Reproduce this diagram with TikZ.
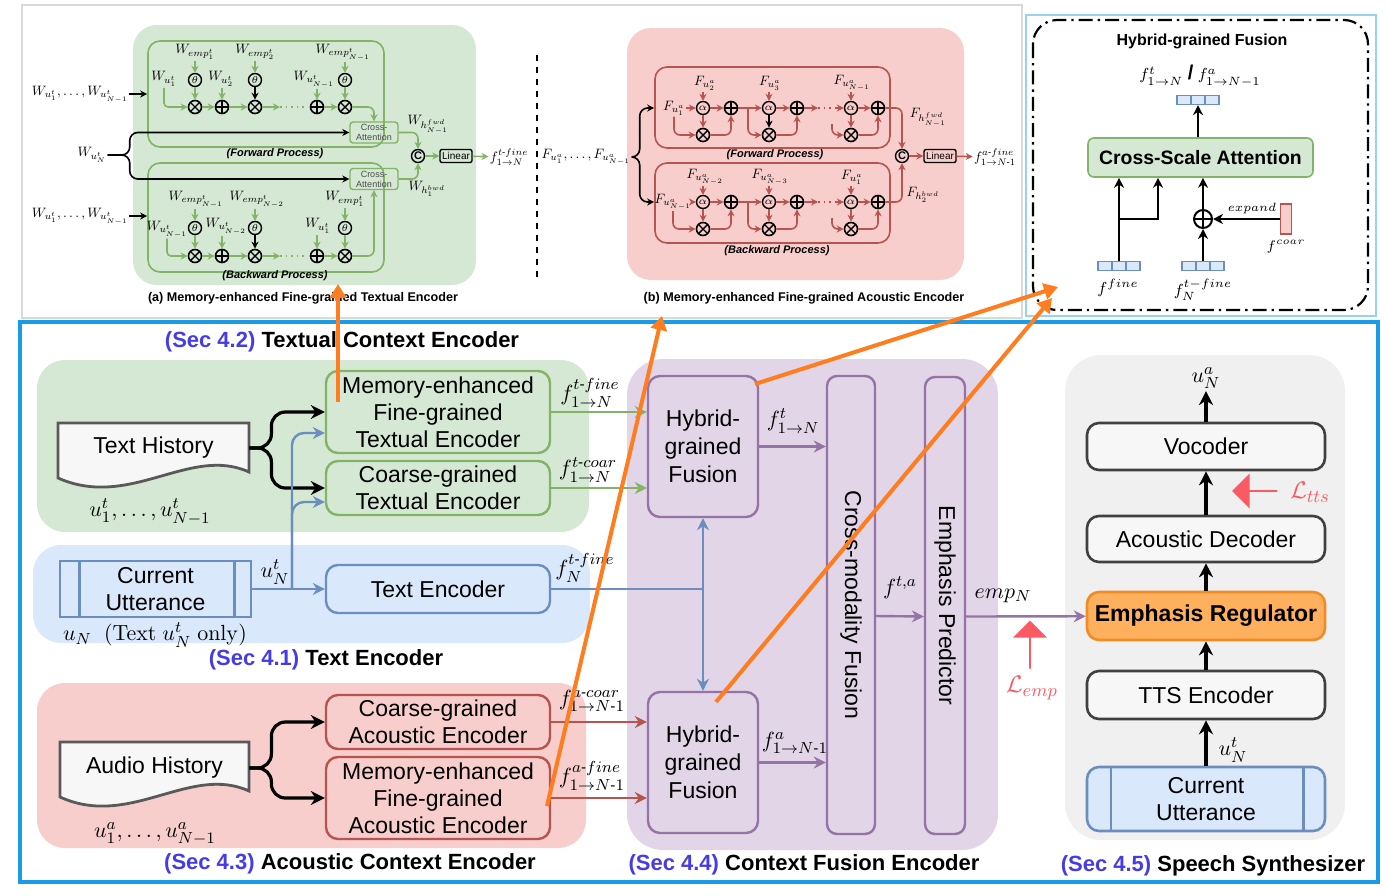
\documentclass[tikz,border=0pt]{standalone}
\usepackage{amsmath}
\usepackage[no-math]{fontspec}
\setmainfont{Liberation Sans}
\usetikzlibrary{arrows.meta,positioning,calc,shapes.arrows}

\definecolor{grbg}{RGB}{213,232,212}
\definecolor{grln}{RGB}{130,179,102}
\definecolor{blbg}{RGB}{218,232,252}
\definecolor{blln}{RGB}{108,142,191}
\definecolor{rdbg}{RGB}{248,206,204}
\definecolor{rdln}{RGB}{184,84,80}
\definecolor{pubg}{RGB}{225,213,231}
\definecolor{puln}{RGB}{150,115,166}
\definecolor{gybg}{RGB}{240,240,240}
\definecolor{orfill}{RGB}{255,176,92}
\definecolor{orln}{RGB}{240,140,40}
\definecolor{secbl}{RGB}{70,60,230}
\definecolor{frbl}{RGB}{25,155,230}
\definecolor{annor}{RGB}{255,125,30}
\definecolor{lossrd}{RGB}{250,90,100}

\newcommand{\fsz}[2]{\fontsize{#1}{#2}\selectfont}
% small maths for the detail panels
\newcommand{\sm}[1]{\scalebox{0.68}{#1}}

\tikzset{
  panel/.style={draw=#1, line width=0.8pt, rounded corners=6pt},
  opc/.style={circle, draw, line width=0.8pt, minimum size=6.5pt, inner sep=0pt},
  otimes/.style={opc, path picture={\draw[line width=0.7pt]
      (path picture bounding box.north west) -- (path picture bounding box.south east)
      (path picture bounding box.north east) -- (path picture bounding box.south west);}},
  oplus/.style={opc, path picture={\draw[line width=0.7pt]
      (path picture bounding box.north) -- (path picture bounding box.south)
      (path picture bounding box.east) -- (path picture bounding box.west);}},
  gatec/.style={circle, draw, line width=0.7pt, minimum size=6.5pt, inner sep=0pt, font=\fsz{5.5}{6}},
  wlab/.style={font=\fsz{10}{11}, inner sep=0.5pt},
  proc/.style={font=\fsz{5.5}{6}\bfseries\itshape},
  capt/.style={font=\fsz{6.3}{7}\bfseries},
  attn/.style={draw=grln, line width=0.7pt, rounded corners=1.5pt, align=center, font=\fsz{4.5}{5},
    text=black!70, minimum width=24pt, minimum height=10.5pt, inner sep=0pt},
  linbox/.style={draw, line width=0.7pt, rounded corners=1pt, font=\fsz{5}{5}, minimum width=16pt,
    minimum height=6.5pt, inner sep=0.5pt},
  ga/.style={draw=grln, line width=0.8pt, -{Stealth[length=3.5pt,width=3.5pt]}},
  ra/.style={draw=rdln, line width=0.8pt, -{Stealth[length=3.5pt,width=3.5pt]}},
  ka/.style={draw=black, line width=0.8pt, -{Stealth[length=3.5pt,width=3.5pt]}},
  bk/.style={draw=black, line width=1.2pt, -{Stealth[length=5pt,width=5pt]}},
  vcell/.style={draw=blln, fill=blbg, line width=0.6pt, minimum width=7pt, minimum height=4.5pt, inner sep=0pt},
  encbox/.style={draw=#1, line width=1.2pt, rounded corners=6pt, align=center, font=\fsz{11.5}{13.5},
    minimum width=112pt, inner sep=0pt},
  synbox/.style={draw=black!75, fill=gray!6, line width=1.3pt, rounded corners=6pt, align=center,
    font=\fsz{11.5}{13.5}, minimum width=119pt, inner sep=1pt},
  mlab/.style={font=\fsz{11}{12}, inner sep=1pt},
  sectitle/.style={font=\fsz{11}{13}\bfseries},
  garr/.style={draw=grln, line width=1.2pt, -{Stealth[length=6pt,width=6pt]}},
  rarr/.style={draw=rdln, line width=1.2pt, -{Stealth[length=6pt,width=6pt]}},
  parr/.style={draw=puln, line width=1.2pt, -{Stealth[length=6pt,width=6pt]}},
  blarr/.style={draw=blln, line width=1.2pt, -{Stealth[length=6pt,width=6pt]}},
  barr/.style={draw=black, line width=1.6pt, -{Stealth[length=7pt,width=7pt]}},
  orarr/.style={draw=annor, line width=2pt, -{Triangle[length=7pt,width=8pt]}},
  loss/.style={single arrow, fill=lossrd, draw=none, inner sep=0pt, single arrow head extend=3.5pt}
}

\begin{document}
\begin{tikzpicture}[x=0.5pt, y=-0.5pt]
\useasboundingbox (0,0) rectangle (1386,895);

% frames
\draw[gray!30, line width=0.6pt] (22,5) rectangle (1022,318);
\draw[frbl!45, line width=1.4pt] (1026,15) rectangle (1376,316);
\draw[frbl, line width=1.6pt] (20,322) rectangle (1378,882);

% ---------------- (a) textual fine-grained encoder ----------------
\fill[grbg, rounded corners=12pt] (133,25) rectangle (476,285);
\node[panel=grln, minimum width=118pt, minimum height=53pt] (tfwd) at (266,94) {};
\node[panel=grln, minimum width=118pt, minimum height=54.5pt] (tbwd) at (266,217.5) {};
\node[proc] (tfp) at (275,154) {(Forward Process)};
\node[proc] (tbp) at (275,276) {(Backward Process)};

\foreach \n/\x/\s in {1/195/otimes, 2/222/oplus, 3/255/otimes, 4/317/oplus, 5/345/otimes}{
  \node[\s] (tf\n) at (\x,107) {};
  \node[\s] (tb\n) at (\x,256) {};
}
\foreach \n/\x in {1/195, 3/255, 5/345}{
  \node[gatec] (tgf\n) at (\x,80) {$\theta$};
  \node[gatec] (tgb\n) at (\x,228) {$\theta$};
}
\node[wlab] (tef1) at (195,52) {\sm{$W_{emp^t_1}$}};
\node[wlab] (tef3) at (255,52) {\sm{$W_{emp^t_2}$}};
\node[wlab] (tef5) at (343,52) {\sm{$W_{emp^t_{N-1}}$}};
\node[wlab] (teb1) at (196,199) {\sm{$W_{emp^t_{N-1}}$}};
\node[wlab] (teb3) at (257,199) {\sm{$W_{emp^t_{N-2}}$}};
\node[wlab] (teb5) at (345,199) {\sm{$W_{emp^t_1}$}};
\foreach \n in {1,3,5}{
  \draw[ga] (tef\n.south -| tgf\n) -- (tgf\n);
  \draw[ga] (teb\n.south -| tgb\n) -- (tgb\n);
}
\draw[ga] (tgf1) -- (tf1); \draw[ka] (tgf3) -- (tf3); \draw[ga] (tgf5) -- (tf5);
\draw[ga] (tgb1) -- (tb1); \draw[ka] (tgb3) -- (tb3); \draw[ga] (tgb5) -- (tb5);

\node[wlab] (tuf1) at (164,79) {\sm{$W_{u^t_1}$}};
\node[wlab] (tuf2) at (221,79) {\sm{$W_{u^t_2}$}};
\node[wlab] (tuf4) at (314,79) {\sm{$W_{u^t_{N-1}}$}};
\node[wlab] (tub1) at (167,229) {\sm{$W_{u^t_{N-1}}$}};
\node[wlab] (tub2) at (226,226) {\sm{$W_{u^t_{N-2}}$}};
\node[wlab] (tub4) at (318,226) {\sm{$W_{u^t_1}$}};
\draw[ga, rounded corners=2pt] (tuf1.south) |- (tf1);
\draw[ga] (tuf2.south -| tf2) -- (tf2);
\draw[ga] (tuf4.south -| tf4) -- (tf4);
\draw[ga, rounded corners=2pt] (tub1.south) |- (tb1);
\draw[ga] (tub2.south -| tb2) -- (tb2);
\draw[ga] (tub4.south -| tb4) -- (tb4);

% chains with dots
\coordinate (tdf1) at (280,107); \coordinate (tdf2) at (306,107);
\coordinate (tdb1) at (280,256); \coordinate (tdb2) at (306,256);
\draw[ga] (tf1) -- (tf2); \draw[ga] (tf2) -- (tf3); \draw[ga] (tf3) -- (tdf1);
\draw[ga] (tb1) -- (tb2); \draw[ga] (tb2) -- (tb3); \draw[ga] (tb3) -- (tdb1);
\draw[grln, line width=0.8pt, dash pattern=on 0.8pt off 2pt] (tdf1) -- (tdf2);
\draw[grln, line width=0.8pt, dash pattern=on 0.8pt off 2pt] (tdb1) -- (tdb2);
\draw[ga] (tf4) -- (tf5);
\draw[ga] (tb4) -- (tb5);

\node[attn] (tca1) at (374,132.5) {Cross-\\Attention};
\node[attn] (tca2) at (374,179) {Cross-\\Attention};
\draw[ga, rounded corners=3pt] (tf5) -| (tca1);
\draw[ga, rounded corners=3pt] (tb5) -| (tca2);
\node[gatec, font=\fsz{5.5}{6}\bfseries] (tcat) at (418,156) {C};
\node[linbox] (tlin) at (456,156) {Linear};
\node[wlab] (tout) at (509,157) {\sm{$f^{t\text{-}fine}_{1\to N}$}};
\draw[ga, rounded corners=3pt] (tca1) -| (tcat);
\draw[ga, rounded corners=3pt] (tca2) -| (tcat);
\draw[ga] (tcat) -- (tlin);
\draw[ga] (tlin) -- (tout);
\node[wlab] (twhf) at (428,124) {\sm{$W_{h^{fwd}_{N-1}}$}};
\node[wlab] (twhb) at (427,189) {\sm{$W_{h^{bwd}_1}$}};

\node[wlab] (tin1) at (80,94) {\sm{$W_{u^t_1},\ldots,W_{u^t_{N-1}}$}};
\node[wlab] (tin2) at (80,216) {\sm{$W_{u^t_1},\ldots,W_{u^t_{N-1}}$}};
\node[wlab] (tinn) at (92,155) {\sm{$W_{u^t_N}$}};
\draw[ka] (tin1) -- (tin1 -| tfwd.west);
\draw[ka] (tin2) -- (tin2 -| tbwd.west);
\draw[ka, rounded corners=4pt] (tinn.east) -- ++(22,0) |- (tca1);
\draw[ka, rounded corners=4pt] (tinn.east) -- ++(22,0) |- (tca2);

\draw[line width=1.4pt, dash pattern=on 3pt off 3pt] (537,55) -- (537,279);

% ---------------- (b) acoustic fine-grained encoder ----------------
\fill[rdbg, rounded corners=12pt] (627,28) rectangle (964,280);
\node[panel=rdln, minimum width=117.5pt, minimum height=40.5pt] (afwd) at (772.5,107.5) {};
\node[panel=rdln, minimum width=117.5pt, minimum height=40pt] (abwd) at (772.5,203) {};
\node[proc] (afp) at (775,155) {(Forward Process)};
\node[proc] (abp) at (777,251) {(Backward Process)};

\foreach \n/\x/\p in {1/703/731, 2/769/797, 3/851/878}{
  \node[gatec] (aaf\n) at (\x,108) {$\alpha$};
  \node[otimes] (amf\n) at (\x,135) {};
  \node[oplus] (apf\n) at (\p,108) {};
  \node[gatec] (aab\n) at (\x,202) {$\alpha$};
  \node[otimes] (amb\n) at (\x,229) {};
  \node[oplus] (apb\n) at (\p,202) {};
  \draw[ra] (aaf\n) -- (apf\n);
  \draw[ra] (aab\n) -- (apb\n);
  \draw[ra] (aab\n) -- (amb\n);
  \draw[ra, rounded corners=3pt] (amf\n) -| (apf\n);
  \draw[ra, rounded corners=3pt] (amb\n) -| (apb\n);
}
\draw[ra] (aaf1) -- (amf1); \draw[ka] (aaf2) -- (amf2); \draw[ra] (aaf3) -- (amf3);

\node[wlab] (alf1) at (705,83) {\sm{$F_{u^a_2}$}};
\node[wlab] (alf2) at (770,83) {\sm{$F_{u^a_3}$}};
\node[wlab] (alf3) at (852,83) {\sm{$F_{u^a_{N-1}}$}};
\node[wlab] (alb1) at (705,177) {\sm{$F_{u^a_{N-2}}$}};
\node[wlab] (alb2) at (770,177) {\sm{$F_{u^a_{N-3}}$}};
\node[wlab] (alb3) at (852,177) {\sm{$F_{u^a_1}$}};
\foreach \n in {1,2,3}{
  \draw[ra] (alf\n.south -| aaf\n) -- (aaf\n);
  \draw[ra] (alb\n.south -| aab\n) -- (aab\n);
}

\node[wlab] (auf) at (674,108) {\sm{$F_{u^a_1}$}};
\node[wlab] (aub) at (673,202) {\sm{$F_{u^a_{N-1}}$}};
\draw[ra] (auf) -- (aaf1);
\draw[ra, rounded corners=3pt] (auf.south) |- (amf1);
\draw[ra] (aub) -- (aab1);
\draw[ra, rounded corners=3pt] (aub.south) |- (amb1);
\draw[ra] (apf1) -- (aaf2);
\draw[ra] (apb1) -- (aab2);
\coordinate (abf2) at (748,108); \coordinate (abb2) at (748,202);
\draw[ra, rounded corners=3pt] (abf2) |- (amf2);
\draw[ra, rounded corners=3pt] (abb2) |- (amb2);

\coordinate (adf1) at (818,108); \coordinate (adf2) at (836,108);
\coordinate (adb1) at (818,202); \coordinate (adb2) at (836,202);
\draw[ra] (apf2) -- (adf1);
\draw[ra] (apb2) -- (adb1);
\draw[rdln, line width=0.8pt, dash pattern=on 0.8pt off 2pt] (adf1) -- (adf2);
\draw[rdln, line width=0.8pt, dash pattern=on 0.8pt off 2pt] (adb1) -- (adb2);
\draw[ra] (adf2) -- (aaf3);
\draw[ra] (adb2) -- (aab3);
\coordinate (abf3) at (832,124); \coordinate (abb3) at (832,218);
\draw[ra, rounded corners=3pt] (abf3) |- (amf3);
\draw[ra, rounded corners=3pt] (abb3) |- (amb3);

\node[gatec, font=\fsz{5.5}{6}\bfseries] (acat) at (902,156) {C};
\node[linbox] (alin) at (940,156) {Linear};
\node[wlab] (aout) at (995,157) {\sm{$f^{a\text{-}fine}_{1\to N\text{-}1}$}};
\draw[ra, rounded corners=3pt] (apf3) -| (acat);
\draw[ra, rounded corners=3pt] (apb3) -| (acat);
\draw[ra] (acat) -- (alin);
\draw[ra] (alin) -- (aout);
\node[wlab] (ahf) at (928,117) {\sm{$F_{h^{fwd}_{N-1}}$}};
\node[wlab] (ahb) at (923,195) {\sm{$F_{h^{bwd}_2}$}};

\node[wlab] (ain) at (586,157) {\sm{$F_{u^a_1},\ldots,F_{u^a_{N-1}}$}};
\draw[ka, rounded corners=4pt] (ain.east) -- ++(8,0) |- (afwd.west |- aaf1);
\draw[ka, rounded corners=4pt] (ain.east) -- ++(8,0) |- (abwd.west |- aab1);

\node[capt] (acap) at (303,298) {(a) Memory-enhanced Fine-grained Textual Encoder};
\node[capt] (bcap) at (804,298) {(b) Memory-enhanced Fine-grained Acoustic Encoder};

% ---------------- hybrid-grained fusion detail ----------------
\draw[line width=1.1pt, dash pattern=on 7pt off 2.5pt on 1.2pt off 2.5pt, rounded corners=12pt]
  (1033,20) rectangle (1368,310);
\node[font=\fsz{8}{9}\bfseries] (hgt) at (1202,41) {Hybrid-grained Fusion};
\node[font=\fsz{8}{9}] (hgo) at (1200,76) {$f^t_{1\to N}$ {\fsz{10}{10}\bfseries /} $f^a_{1\to N-1}$};
\foreach \i/\x in {1/1184, 2/1198, 3/1212} \node[vcell] (vo\i) at (\x,100) {};
\foreach \i/\x in {1/1105, 2/1119, 3/1133} \node[vcell] (vf\i) at (\x,266) {};
\foreach \i/\x in {1/1189, 2/1203, 3/1217} \node[vcell] (vn\i) at (\x,266) {};
\node[draw=grln, fill=grbg, line width=0.8pt, rounded corners=3pt, minimum width=112.5pt,
  minimum height=19.5pt, font=\fsz{9.7}{10}\bfseries] (csa) at (1200.5,157.5) {Cross-Scale Attention};
\draw[bk] (csa.north -| vo2) -- (vo2);
\node[oplus, minimum size=9pt, line width=1pt] (hsum) at (1203,219) {};
\coordinate (hj) at (1119,219);
\coordinate (hk) at (1158,219);
\draw[bk] (vf2) -- (vf2 |- csa.south);
\draw[bk] (hj) -- (hk) -- (hk |- csa.south);
\draw[bk] (vn2) -- (hsum);
\draw[bk] (hsum) -- (hsum |- csa.south);
\node[draw=rdln, fill=rdbg, line width=0.6pt, minimum width=5.5pt, minimum height=15pt, inner sep=0pt]
  (coar) at (1286,219) {};
\draw[bk] (coar) -- (hsum);
\node[font=\fsz{6.5}{7}] (hexp) at (1252,208) {$expand$};
\node[font=\fsz{8}{9}] (hlf) at (1118,288) {$f^{fine}$};
\node[font=\fsz{8}{9}] (hln) at (1203,290) {$f^{t-fine}_N$};
\node[font=\fsz{7.5}{8}] (hlc) at (1286,247) {$f^{coar}$};

% ---------------- overview ----------------
\fill[grbg, rounded corners=14pt] (37,360) rectangle (589,532);
\fill[blbg, rounded corners=14pt] (33,545) rectangle (590,643);
\fill[rdbg, rounded corners=14pt] (37,683) rectangle (586,848);
\fill[pubg, rounded corners=18pt] (627,359) rectangle (998,850);
\fill[gybg, rounded corners=18pt] (1065,355) rectangle (1345,840);

% history documents
\draw[draw=black!65, fill=black!3, line width=1.4pt] (58,423) -- (249,423) -- (249,472)
  .. controls (190,445) and (130,510) .. (58,478) -- cycle;
\node[font=\fsz{11.5}{13}, minimum width=95.5pt, minimum height=28pt, inner sep=0pt] (thist) at (153.5,448) {Text History};
\node[mlab] (thl) at (150,512) {$u^t_1,\ldots,u^t_{N-1}$};
\draw[draw=black!65, fill=black!3, line width=1.4pt] (60,742) -- (249,742) -- (249,791)
  .. controls (190,764) and (130,829) .. (60,797) -- cycle;
\node[font=\fsz{11.5}{13}, minimum width=94.5pt, minimum height=28pt, inner sep=0pt] (ahist) at (154.5,768) {Audio History};
\node[mlab] (ahl) at (155,834) {$u^a_1,\ldots,u^a_{N-1}$};

% current utterance
\node[draw=blln, fill=blbg, line width=1.4pt, minimum width=95.5pt, minimum height=28pt, align=center,
  font=\fsz{11.5}{13.5}, inner sep=0pt] (cutt) at (155.5,589) {Current\\Utterance};
\draw[blln, line width=1.2pt] ($(cutt.north west)+(21,0)$) -- ($(cutt.south west)+(21,0)$);
\draw[blln, line width=1.2pt] ($(cutt.north east)+(-18,0)$) -- ($(cutt.south east)+(-18,0)$);
\node[mlab] (cul) at (155,635) {$u_N\ \ (\mathrm{Text}\ u^t_N\ \mathrm{only})$};

% encoders
\node[encbox=grln, fill=grbg, minimum height=41pt] (mfte) at (438,412) {Memory-enhanced\\Fine-grained\\Textual Encoder};
\node[encbox=grln, fill=grbg, minimum height=27pt] (ctte) at (438,488) {Coarse-grained\\Textual Encoder};
\node[encbox=blln, fill=blbg, minimum height=24pt] (tenc) at (438,589) {Text Encoder};
\node[encbox=rdln, fill=rdbg, minimum height=27pt] (caen) at (438,722) {Coarse-grained\\Acoustic Encoder};
\node[encbox=rdln, fill=rdbg, minimum height=41pt] (mfae) at (438,798) {Memory-enhanced\\Fine-grained\\Acoustic Encoder};

\draw[barr, rounded corners=7pt] (thist.east) -- ++(22,0) |- (mfte.west);
\draw[barr, rounded corners=7pt] (thist.east) -- ++(22,0) |- (ctte.west);
\draw[barr, rounded corners=7pt] (ahist.east) -- ++(22,0) |- (caen.west);
\draw[barr, rounded corners=7pt] (ahist.east) -- ++(22,0) |- (mfae.west);

\coordinate (bj) at (292,589);
\draw[blarr] (cutt) -- (tenc);
\draw[blarr, rounded corners=6pt] (bj) |- ($(mfte.west)+(0,21)$);
\draw[blarr, rounded corners=6pt] (bj) |- ($(ctte.west)+(0,14)$);
\node[mlab] (ulab) at (275,572) {$u^t_N$};

% context fusion encoder
\node[encbox=puln, fill=pubg, minimum width=55pt, minimum height=70.5pt, font=\fsz{11.5}{14}] (hyt) at (703,446.5) {Hybrid-\\grained\\Fusion};
\node[encbox=puln, fill=pubg, minimum width=55pt, minimum height=70.5pt, font=\fsz{11.5}{14}] (hyb) at (703,762.5) {Hybrid-\\grained\\Fusion};
\node[draw=puln, fill=pubg, line width=1.2pt, rounded corners=5pt, minimum width=24pt, minimum height=229pt,
  inner sep=0pt] (cmf) at (851,605) {\rotatebox{-90}{\fsz{11.5}{13}Cross-modality Fusion}};
\node[draw=puln, fill=pubg, line width=1.2pt, rounded corners=5pt, minimum width=20pt, minimum height=228.5pt,
  inner sep=0pt] (epr) at (945,605.5) {\rotatebox{-90}{\fsz{11.5}{13}Emphasis Predictor}};

\draw[garr] (mfte) -- (mfte -| hyt.west);
\draw[garr] (ctte) -- (ctte -| hyt.west);
\draw[rarr] (caen) -- (caen -| hyb.west);
\draw[rarr] (mfae) -- (mfae -| hyb.west);
\coordinate (bk) at (703,589);
\draw[blln, line width=1.2pt] (tenc) -- (bk);
\draw[blarr] (bk) -- (hyt);
\draw[blarr] (bk) -- (hyb);

\node[mlab] (lf1) at (590,393) {$f^{t\text{-}fine}_{1\to N}$};
\node[mlab] (lf2) at (588,470) {$f^{t\text{-}coar}_{1\to N}$};
\node[mlab] (lf3) at (585,568) {$f^{t\text{-}fine}_{N}$};
\node[mlab] (lf4) at (592,701) {$f^{a\text{-}coar}_{1\to N\text{-}1}$};
\node[mlab] (lf5) at (592,776) {$f^{a\text{-}fine}_{1\to N\text{-}1}$};

% speech synthesizer
\node[synbox, minimum height=23.5pt] (voc) at (1206,446.5) {Vocoder};
\node[synbox, minimum height=23pt] (adec) at (1206,539) {Acoustic Decoder};
\node[synbox, draw=orln, fill=orfill, minimum height=24pt, font=\fsz{11.5}{13.5}\bfseries] (ereg) at (1206,616) {Emphasis Regulator};
\node[synbox, minimum height=24pt] (ttse) at (1206,695) {TTS Encoder};
\node[synbox, draw=blln, fill=blbg, minimum height=32pt] (cus) at (1206,799) {Current\\Utterance};
\draw[blln, line width=1.2pt] ($(cus.north west)+(25,0)$) -- ($(cus.south west)+(25,0)$);
\draw[blln, line width=1.2pt] ($(cus.north east)+(-23,0)$) -- ($(cus.south east)+(-23,0)$);

\draw[parr] (hyt) -- (hyt -| cmf.west);
\draw[parr] (hyb) -- (hyb -| cmf.west);
\draw[parr] ($(cmf.east)+(0,11)$) -- ($(epr.west)+(0,11)$);
\draw[parr] ($(epr.east)+(0,11)$) -- (ereg);
\node[mlab] (lft) at (793,421) {$f^t_{1\to N}$};
\node[mlab] (lfa) at (795,743) {$f^a_{1\to N\text{-}1}$};
\node[mlab] (lfta) at (900,588) {$f^{t,a}$};
\node[mlab] (lemp) at (1003,596) {$emp_N$};

\draw[barr] (cus) -- (ttse);
\draw[barr] (ttse) -- (ereg);
\draw[barr] (ereg) -- (adec);
\draw[barr] (adec) -- (voc);
\node[mlab] (uan) at (1206,378) {$u^a_N$};
\draw[barr] (voc) -- (uan);
\node[mlab] (utn) at (1233,750) {$u^t_N$};

% losses
\node[loss, minimum height=24pt, minimum width=17pt, shape border rotate=90] (lea) at (1030,645) {};
\node[font=\fsz{13}{14}, text=lossrd] (lel) at (1032,688) {$\mathcal{L}_{emp}$};
\node[loss, minimum height=22.5pt, minimum width=17.5pt, shape border rotate=180] (lta) at (1255,491) {};
\node[font=\fsz{13}{14}, text=lossrd] (ltl) at (1310,492) {$\mathcal{L}_{tts}$};

% section titles
\node[sectitle] (s42) at (342,342) {\textcolor{secbl}{(Sec 4.2)} Textual Context Encoder};
\node[sectitle] (s41) at (326,660) {\textcolor{secbl}{(Sec 4.1)} Text Encoder};
\node[sectitle] (s43) at (350,864) {\textcolor{secbl}{(Sec 4.3)} Acoustic Context Encoder};
\node[sectitle] (s44) at (804,865) {\textcolor{secbl}{(Sec 4.4)} Context Fusion Encoder};
\node[sectitle] (s45) at (1213,866) {\textcolor{secbl}{(Sec 4.5)} Speech Synthesizer};

% orange pointers
\coordinate (o1a) at (338,402); \coordinate (o1b) at (338,284);
\coordinate (o2a) at (547,806); \coordinate (o2b) at (662,316);
\coordinate (o3a) at (755,384); \coordinate (o3b) at (1058,287);
\coordinate (o4a) at (716,702); \coordinate (o4b) at (1052,298);
\foreach \k in {1,...,4} \draw[orarr] (o\k a) -- (o\k b);
\end{tikzpicture}
\end{document}
